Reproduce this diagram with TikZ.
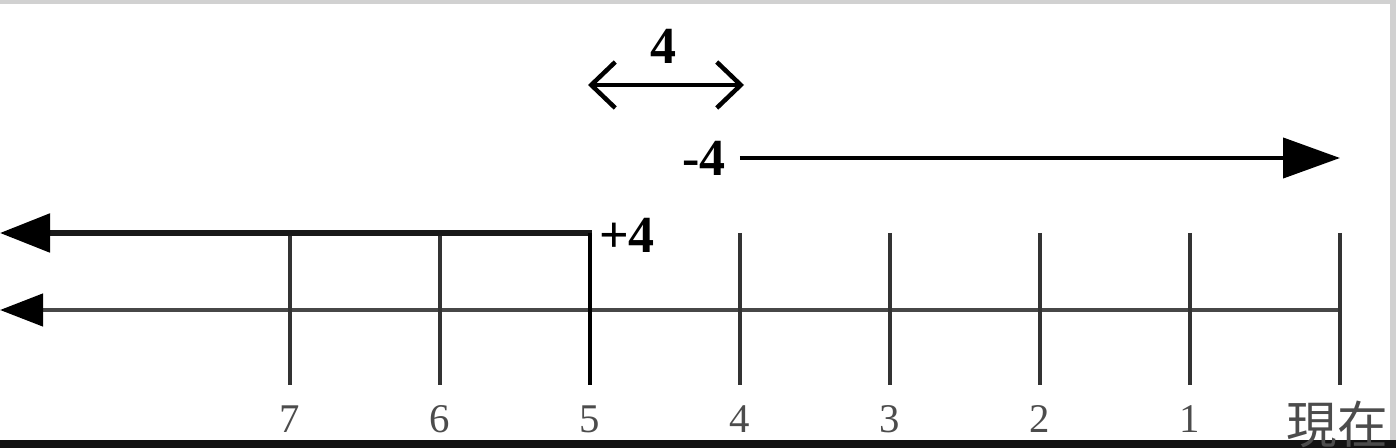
\documentclass[tikz,border=0pt]{standalone}
\usepackage{fontspec}
\setmainfont{Liberation Serif}
\newfontfamily\cjk{Noto Sans CJK JP}
\usetikzlibrary{arrows.meta}

\begin{document}
\begin{tikzpicture}[x=0.25mm, y=-0.25mm,
    tick/.style={line width=2.4pt, black!80},
    lbl/.style={inner sep=0pt, text=black!70, font=\fontsize{29}{30}\selectfont},
    blbl/.style={inner sep=0pt, font=\fontsize{37}{38}\selectfont\bfseries}]
    \useasboundingbox (0,0) rectangle (1396,448);
    \fill[black!18] (0,0) rectangle (1396,4) (1390,0) rectangle (1396,440);
    \fill[black!93] (0,440) rectangle (1396,448);
    % time axis
    \coordinate (now) at (1340,310); \coordinate (past) at (0,310);
    \draw[line width=3.2pt, black!72, -{Triangle[length=10.75mm, width=8mm, color=black]}] (now) -- (past);
    \draw[tick] (1340,233) -- (1340,385);
    \node[lbl, font=\fontsize{36}{38}\selectfont\cjk] (nnow) at (1337,424) {現在};
    \foreach \i in {1,...,7} {
        \coordinate (t\i) at ({1340-150*\i},233);
        \draw[tick] (t\i) -- ++(0,152);
        \node[lbl] (n\i) at ({1340-150*\i},419) {\i};
    }
    % +4 and -4
    \draw[line width=3.8pt, black!90, -{Triangle[length=12.5mm, width=9.5mm, color=black]}] ([xshift=0.5mm]t5) -- (0,233);
    \draw[line width=2.4pt] (t5) -- ++(0,152);
    \node[blbl] (p4) at (627,235) {+4};
    \node[blbl] (m4) at (704,158) {-4};
    \draw[line width=3pt, -{Triangle[length=14.25mm, width=10mm]}] ([xshift=3.5mm]m4.east) -- (now |- m4.east);
    % width 4
    \coordinate (a) at (588,85); \coordinate (b) at (744,85);
    \draw[line width=3.2pt, {Straight Barb[length=6mm, width=11.5mm]}-{Straight Barb[length=6mm, width=11.5mm]}] (a) -- (b);
    \node[blbl] (w) at (663,46) {4};
\end{tikzpicture}
\end{document}
